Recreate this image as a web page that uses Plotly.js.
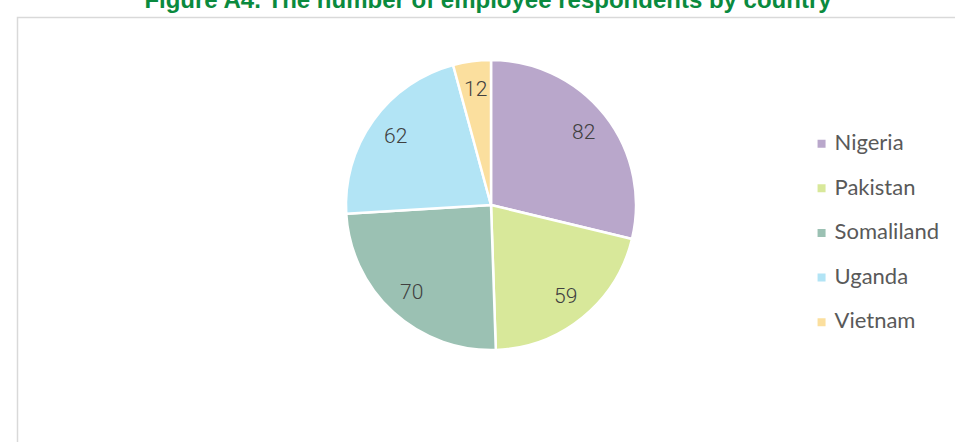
<!DOCTYPE html>
<html>
<head>
<meta charset="utf-8">
<script src="https://cdn.plot.ly/plotly-3.0.1.min.js"></script>
<style>html,body{margin:0;padding:0;background:#fff;}#chart{width:955px;height:442px;}</style>
</head>
<body>
<div id="chart"></div>
<script>
const countries = ["Nigeria", "Pakistan", "Somaliland", "Uganda", "Vietnam"];
const respondents = [82, 59, 70, 62, 12];
const sliceColors = ["#b9a7cb", "#d8e89a", "#9bc1b3", "#b2e4f5", "#fbdf9e"];
const chartTitle = "Figure A4. The number of employee respondents by country";

const W = 955, H = 442;
const pieDomain = {x: [0.3623, 0.6660], y: [0.2081, 0.8643]};
const legendLabels = countries.map(c => '<span style="font-size:22px">' + c + '</span><br> ');

const trace = {
  type: 'pie',
  values: respondents,
  labels: legendLabels,
  textinfo: 'none',
  sort: false,
  direction: 'clockwise',
  rotation: 0,
  marker: {colors: sliceColors, line: {color: '#ffffff', width: 2.5}},
  domain: pieDomain,
  hoverinfo: 'none'
};

// data labels placed at ~0.81 of the radius along each slice's mid-angle (Excel-style)
const total = respondents.reduce((a, b) => a + b, 0);
const cx = (pieDomain.x[0] + pieDomain.x[1]) / 2;
const cy = (pieDomain.y[0] + pieDomain.y[1]) / 2;
const Rpx = Math.min((pieDomain.x[1] - pieDomain.x[0]) * W, (pieDomain.y[1] - pieDomain.y[0]) * H) / 2;
let cum = 0;
const labelAnnots = respondents.map(v => {
  const mid = (cum + v / 2) / total * 2 * Math.PI;
  cum += v;
  const r = 0.81 * Rpx;
  return {
    xref: 'paper', yref: 'paper',
    x: cx + r * Math.sin(mid) / W,
    y: cy + r * Math.cos(mid) / H,
    text: String(v), showarrow: false,
    xanchor: 'center', yanchor: 'middle',
    font: {family: 'Roboto', size: 21, color: '#404040', weight: 300}
  };
});

const layout = {
  width: W, height: H,
  margin: {l: 0, r: 0, t: 0, b: 0},
  paper_bgcolor: '#ffffff',
  title: {
    text: '<b>' + chartTitle + '</b>',
    font: {family: 'Liberation Sans, Arial', size: 24, color: '#0a8a3e'},
    x: 0.511, xanchor: 'center', xref: 'paper',
    y: 1.0, yanchor: 'middle', yref: 'container'
  },
  showlegend: true,
  legend: {
    x: 0.832, xanchor: 'left', y: 0.713, yanchor: 'top',
    font: {family: 'Lato', size: 16, color: '#595959'},
    valign: 'top',
    itemclick: false
  },
  annotations: labelAnnots,
  shapes: [{
    type: 'rect', xref: 'paper', yref: 'paper',
    x0: 17.5 / W, x1: 1.02, y0: -0.02, y1: 1 - 17.5 / H,
    line: {color: '#d9d9d9', width: 1.5}
  }]
};

Plotly.newPlot('chart', [trace], layout, {staticPlot: true}).then(gd => {
  // smaller legend swatches, closer to the text, like the reference
  gd.querySelectorAll('.legendpoints path.legendpie').forEach(p => {
    p.setAttribute('d', 'M11,4H3V-4H11Z');
    p.style.strokeWidth = '0';
  });
});
</script>
</body>
</html>
